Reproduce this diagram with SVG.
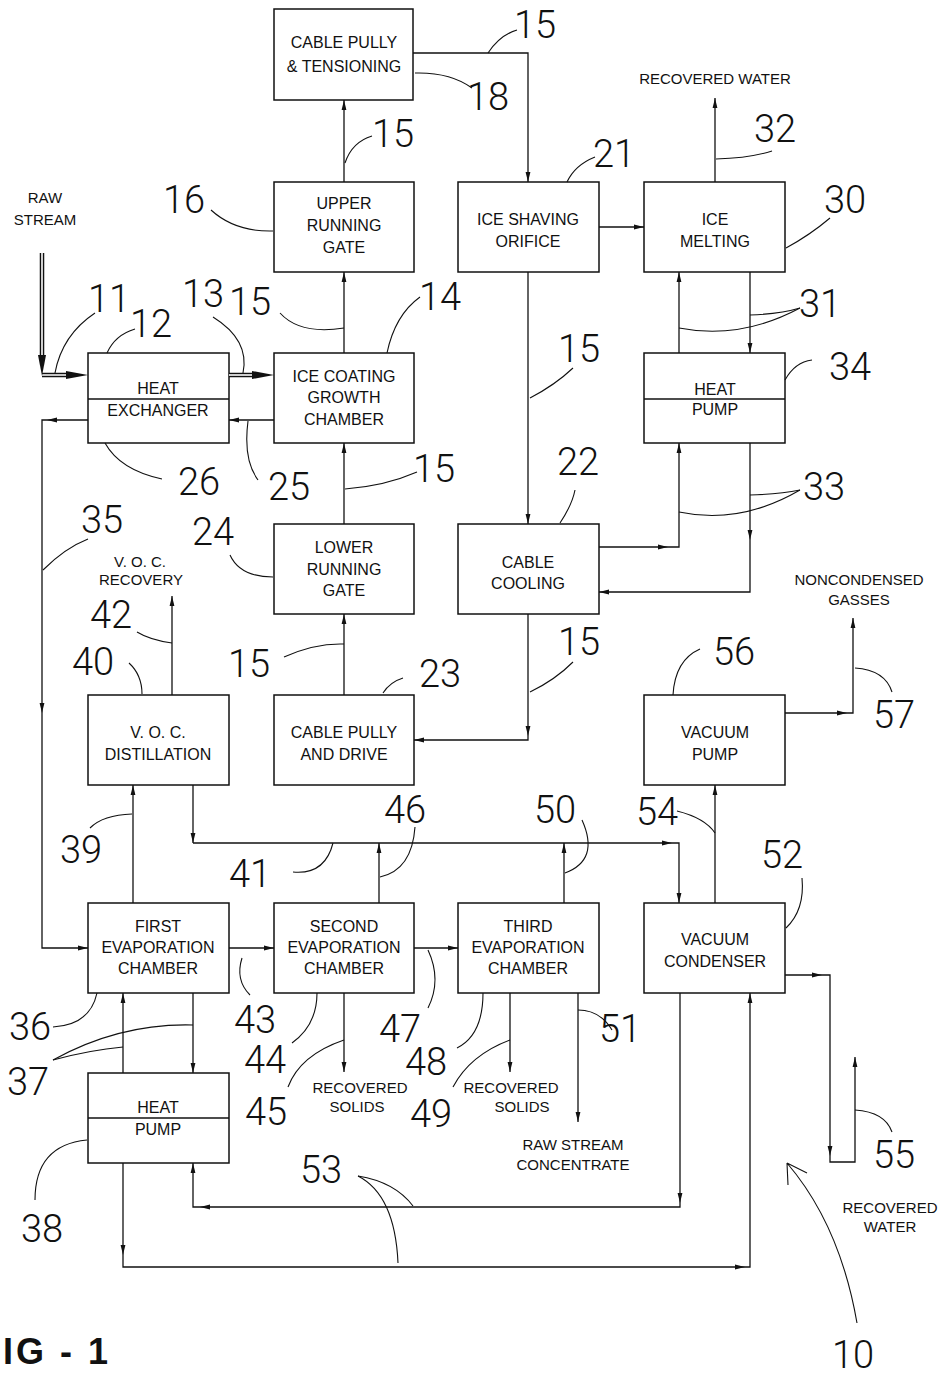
<svg xmlns="http://www.w3.org/2000/svg" width="942" height="1375" viewBox="0 0 942 1375">
<style>
.b{fill:none;stroke:#111;stroke-width:1.5}
.t{font-family:"Liberation Sans",Arial,sans-serif;font-size:16px;text-anchor:middle;fill:#111}
.f{font-family:"Liberation Sans",Arial,sans-serif;font-size:15px;text-anchor:middle;fill:#111}
.n{font-family:Roboto,"Liberation Sans",sans-serif;font-weight:300;font-size:38px;text-anchor:middle;fill:#111}
.c{fill:none;stroke:#111;stroke-width:1.3}
.a{marker-end:url(#ar)}
.l{fill:none;stroke:#111;stroke-width:1.1}
</style>
<defs>
<marker id="ar" markerUnits="userSpaceOnUse" markerWidth="11" markerHeight="7" refX="10" refY="3" orient="auto" viewBox="0 0 11 7"><path d="M0,0.6 L10,3 L0,5.4 z" fill="#111"/></marker>
</defs>
<rect width="942" height="1375" fill="#fff"/>

<g id="cable-pully-tensioning"><rect class="b" x="274" y="9" width="139" height="91"/><text class="t" x="344" y="48">CABLE PULLY</text><text class="t" x="344" y="72">&amp; TENSIONING</text></g>
<g id="upper-running-gate"><rect class="b" x="274" y="182" width="140" height="90"/><text class="t" x="344" y="209">UPPER</text><text class="t" x="344" y="231">RUNNING</text><text class="t" x="344" y="253">GATE</text></g>
<g id="ice-shaving-orifice"><rect class="b" x="458" y="182" width="141" height="90"/><text class="t" x="528" y="225">ICE SHAVING</text><text class="t" x="528" y="247">ORIFICE</text></g>
<g id="ice-melting"><rect class="b" x="644" y="182" width="141" height="90"/><text class="t" x="715" y="225">ICE</text><text class="t" x="715" y="247">MELTING</text></g>
<g id="heat-exchanger"><rect class="b" x="88" y="353" width="141" height="90"/><line class="b" x1="88" y1="399" x2="229" y2="399"/><text class="t" x="158" y="394">HEAT</text><text class="t" x="158" y="416">EXCHANGER</text></g>
<g id="ice-coating-growth-chamber"><rect class="b" x="274" y="353" width="140" height="90"/><text class="t" x="344" y="382">ICE COATING</text><text class="t" x="344" y="403">GROWTH</text><text class="t" x="344" y="425">CHAMBER</text></g>
<g id="heat-pump-upper"><rect class="b" x="644" y="353" width="141" height="90"/><line class="b" x1="644" y1="399" x2="785" y2="399"/><text class="t" x="715" y="395">HEAT</text><text class="t" x="715" y="415">PUMP</text></g>
<g id="lower-running-gate"><rect class="b" x="274" y="524" width="140" height="90"/><text class="t" x="344" y="553">LOWER</text><text class="t" x="344" y="575">RUNNING</text><text class="t" x="344" y="596">GATE</text></g>
<g id="cable-cooling"><rect class="b" x="458" y="524" width="141" height="90"/><text class="t" x="528" y="568">CABLE</text><text class="t" x="528" y="589">COOLING</text></g>
<g id="voc-distillation"><rect class="b" x="88" y="695" width="141" height="90"/><text class="t" x="158" y="738">V. O. C.</text><text class="t" x="158" y="760">DISTILLATION</text></g>
<g id="cable-pully-drive"><rect class="b" x="274" y="695" width="140" height="90"/><text class="t" x="344" y="738">CABLE PULLY</text><text class="t" x="344" y="760">AND DRIVE</text></g>
<g id="vacuum-pump"><rect class="b" x="644" y="695" width="141" height="90"/><text class="t" x="715" y="738">VACUUM</text><text class="t" x="715" y="760">PUMP</text></g>
<g id="first-evaporation-chamber"><rect class="b" x="88" y="903" width="141" height="90"/><text class="t" x="158" y="932">FIRST</text><text class="t" x="158" y="953">EVAPORATION</text><text class="t" x="158" y="974">CHAMBER</text></g>
<g id="second-evaporation-chamber"><rect class="b" x="274" y="903" width="140" height="90"/><text class="t" x="344" y="932">SECOND</text><text class="t" x="344" y="953">EVAPORATION</text><text class="t" x="344" y="974">CHAMBER</text></g>
<g id="third-evaporation-chamber"><rect class="b" x="458" y="903" width="141" height="90"/><text class="t" x="528" y="932">THIRD</text><text class="t" x="528" y="953">EVAPORATION</text><text class="t" x="528" y="974">CHAMBER</text></g>
<g id="vacuum-condenser"><rect class="b" x="644" y="903" width="141" height="90"/><text class="t" x="715" y="945">VACUUM</text><text class="t" x="715" y="967">CONDENSER</text></g>
<g id="heat-pump-lower"><rect class="b" x="88" y="1073" width="141" height="90"/><line class="b" x1="88" y1="1118" x2="229" y2="1118"/><text class="t" x="158" y="1113">HEAT</text><text class="t" x="158" y="1135">PUMP</text></g>

<g id="connectors">
<path class="c a" d="M413,53 H528 V182"/>
<path class="c a" d="M344,182 V100"/>
<path class="c a" d="M344,353 V272"/>
<path class="c a" d="M344,524 V443"/>
<path class="c a" d="M344,695 V614"/>
<path class="c a" d="M528,272 V524"/>
<path class="c a" d="M528,614 V736"/>
<path class="c a" d="M528,736 V740 H414"/>
<path class="c a" d="M599,227 H644"/>
<path class="c a" d="M715,182 V98"/>
<path class="c a" d="M679,353 V272"/>
<path class="c a" d="M750,272 V353"/>
<path class="c a" d="M599,547 H668"/>
<path class="c a" d="M668,547 H679 V443"/>
<path class="c a" d="M750,443 V540"/>
<path class="c a" d="M750,540 V592 H599"/>
<path class="c a" d="M274,420 H229"/>
<path class="c a" d="M88,420 H47"/>
<path class="c a" d="M47,420 H42 V713"/>
<path class="c a" d="M42,713 V948 H88"/>
<path class="c a" d="M172,695 V596"/>
<path class="c a" d="M133,903 V785"/>
<path class="c a" d="M193,785 V843"/>
<path class="c a" d="M193,843 H672"/>
<path class="c a" d="M672,843 H679 V903"/>
<path class="c a" d="M379,903 V843"/>
<path class="c a" d="M564,903 V843"/>
<path class="c a" d="M715,903 V785"/>
<path class="c a" d="M785,713 H847"/>
<path class="c a" d="M847,713 H853 V618"/>
<path class="c a" d="M785,975 H822"/>
<path class="c a" d="M822,975 H830 V1156"/>
<path class="c a" d="M830,1156 V1162 H855 V1057"/>
<path class="c a" d="M680,993 V1203"/>
<path class="c a" d="M680,1203 V1207 H200"/>
<path class="c a" d="M200,1207 H193 V1163"/>
<path class="c a" d="M123,1163 V1255"/>
<path class="c a" d="M123,1255 V1267 H745"/>
<path class="c a" d="M745,1267 H750 V993"/>
<path class="c a" d="M123,1073 V993"/>
<path class="c a" d="M193,993 V1073"/>
<path class="c a" d="M229,948 H274"/>
<path class="c a" d="M414,948 H458"/>
<path class="c a" d="M344,993 V1072"/>
<path class="c a" d="M510,993 V1072"/>
<path class="c a" d="M578,993 V1122"/>
<path d="M42,253 V360 M42,375 H70" fill="none" stroke="#111" stroke-width="4.5"/>
<path d="M42,253 V360 M42,375 H70" fill="none" stroke="#fff" stroke-width="1.6"/>
<path d="M229,375 H258" fill="none" stroke="#111" stroke-width="4.5"/>
<path d="M229,375 H258" fill="none" stroke="#fff" stroke-width="1.6"/>
<polygon points="38,355 46,355 42,376" fill="#111"/>
<polygon points="66,371 66,379 88,375" fill="#111"/>
<polygon points="252,371 252,379 274,375" fill="#111"/>
</g>

<g id="leaders">
<path class="l" d="M488,53 Q500,35 517,30"/>
<path class="l" d="M415,73 Q450,72 472,88"/>
<path class="l" d="M345,163 Q352,142 372,136"/>
<path class="l" d="M280,313 Q300,335 344,328"/>
<path class="l" d="M387,353 Q395,315 420,297"/>
<path class="l" d="M345,489 Q385,486 417,472"/>
<path class="l" d="M284,657 Q315,643 344,644"/>
<path class="l" d="M383,693 Q390,682 403,678"/>
<path class="l" d="M530,398 Q555,385 573,368"/>
<path class="l" d="M560,523 Q572,505 575,490"/>
<path class="l" d="M530,692 Q555,680 573,662"/>
<path class="l" d="M567,182 Q575,165 595,157"/>
<path class="l" d="M716,159 Q750,158 772,151"/>
<path class="l" d="M786,248 Q810,235 830,218"/>
<path class="l" d="M750,315 Q780,314 800,308"/>
<path class="l" d="M679,328 Q740,340 800,308"/>
<path class="l" d="M750,495 Q780,494 800,490"/>
<path class="l" d="M679,512 Q740,525 800,490"/>
<path class="l" d="M785,380 Q795,362 812,360"/>
<path class="l" d="M55,373 Q62,335 95,313"/>
<path class="l" d="M107,353 Q115,335 135,329"/>
<path class="l" d="M213,317 Q250,340 243,373"/>
<path class="l" d="M248,421 Q243,460 258,480"/>
<path class="l" d="M105,443 Q120,470 162,479"/>
<path class="l" d="M43,570 Q65,548 88,539"/>
<path class="l" d="M211,210 Q235,232 273,231"/>
<path class="l" d="M230,555 Q240,577 273,577"/>
<path class="l" d="M137,632 Q150,640 172,643"/>
<path class="l" d="M129,663 Q142,675 142,694"/>
<path class="l" d="M90,828 Q103,815 132,814"/>
<path class="l" d="M293,872 Q325,875 333,843"/>
<path class="l" d="M380,877 Q412,870 415,827"/>
<path class="l" d="M582,820 Q600,860 565,873"/>
<path class="l" d="M677,811 Q705,818 715,833"/>
<path class="l" d="M802,878 Q805,910 786,928"/>
<path class="l" d="M855,668 Q885,670 892,692"/>
<path class="l" d="M673,695 Q675,660 700,649"/>
<path class="l" d="M855,1110 Q885,1112 892,1132"/>
<path class="l" d="M857,1323 Q840,1225 787,1163 M787,1163 L807,1173 M787,1163 L788,1185"/>
<path class="l" d="M358,1176 Q395,1182 413,1206"/>
<path class="l" d="M358,1176 Q395,1195 398,1263"/>
<path class="l" d="M53,1060 Q90,1050 123,1047"/>
<path class="l" d="M53,1060 Q120,1023 193,1025"/>
<path class="l" d="M53,1027 Q90,1025 97,993"/>
<path class="l" d="M35,1200 Q35,1145 87,1140"/>
<path class="l" d="M242,958 Q235,980 250,995"/>
<path class="l" d="M292,1043 Q317,1025 317,993"/>
<path class="l" d="M288,1087 Q300,1055 344,1040"/>
<path class="l" d="M428,950 Q442,980 428,1008"/>
<path class="l" d="M457,1048 Q483,1035 483,993"/>
<path class="l" d="M453,1087 Q470,1055 510,1040"/>
<path class="l" d="M578,1010 Q600,1010 612,1030"/>
</g>

<g id="labels">
<text class="f" x="45" y="203">RAW</text>
<text class="f" x="45" y="225">STREAM</text>
<text class="f" x="715" y="84">RECOVERED WATER</text>
<text class="f" x="140" y="567">V. O. C.</text>
<text class="f" x="141" y="585">RECOVERY</text>
<text class="f" x="859" y="585">NONCONDENSED</text>
<text class="f" x="859" y="605">GASSES</text>
<text class="f" x="360" y="1093">RECOVERED</text>
<text class="f" x="357" y="1112">SOLIDS</text>
<text class="f" x="511" y="1093">RECOVERED</text>
<text class="f" x="522" y="1112">SOLIDS</text>
<text class="f" x="573" y="1150">RAW STREAM</text>
<text class="f" x="573" y="1170">CONCENTRATE</text>
<text class="f" x="890" y="1213">RECOVERED</text>
<text class="f" x="890" y="1232">WATER</text>
<text x="3" y="1364" font-family="Liberation Sans, Arial, sans-serif" font-weight="bold" font-size="36" letter-spacing="3" fill="#111">IG - 1</text>
</g>

<g id="reference-numerals">
<text class="n" x="535" y="38">15</text>
<text class="n" x="488" y="110">18</text>
<text class="n" x="393" y="147">15</text>
<text class="n" x="184" y="213">16</text>
<text class="n" x="614" y="167">21</text>
<text class="n" x="775" y="142">32</text>
<text class="n" x="845" y="213">30</text>
<text class="n" x="820" y="317">31</text>
<text class="n" x="203" y="307">13</text>
<text class="n" x="250" y="315">15</text>
<text class="n" x="440" y="310">14</text>
<text class="n" x="151" y="337">12</text>
<text class="n" x="109" y="312">11</text>
<text class="n" x="579" y="362">15</text>
<text class="n" x="850" y="380">34</text>
<text class="n" x="199" y="495">26</text>
<text class="n" x="289" y="500">25</text>
<text class="n" x="434" y="482">15</text>
<text class="n" x="824" y="500">33</text>
<text class="n" x="578" y="475">22</text>
<text class="n" x="102" y="533">35</text>
<text class="n" x="213" y="545">24</text>
<text class="n" x="111" y="628">42</text>
<text class="n" x="93" y="675">40</text>
<text class="n" x="249" y="677">15</text>
<text class="n" x="440" y="687">23</text>
<text class="n" x="579" y="655">15</text>
<text class="n" x="734" y="665">56</text>
<text class="n" x="894" y="728">57</text>
<text class="n" x="81" y="863">39</text>
<text class="n" x="250" y="887">41</text>
<text class="n" x="405" y="823">46</text>
<text class="n" x="555" y="823">50</text>
<text class="n" x="657" y="825">54</text>
<text class="n" x="782" y="868">52</text>
<text class="n" x="30" y="1040">36</text>
<text class="n" x="28" y="1095">37</text>
<text class="n" x="255" y="1033">43</text>
<text class="n" x="265" y="1073">44</text>
<text class="n" x="266" y="1125">45</text>
<text class="n" x="400" y="1042">47</text>
<text class="n" x="426" y="1075">48</text>
<text class="n" x="431" y="1127">49</text>
<text class="n" x="620" y="1042">51</text>
<text class="n" x="321" y="1183">53</text>
<text class="n" x="894" y="1168">55</text>
<text class="n" x="42" y="1242">38</text>
<text class="n" x="853" y="1368">10</text>
</g>
</svg>
